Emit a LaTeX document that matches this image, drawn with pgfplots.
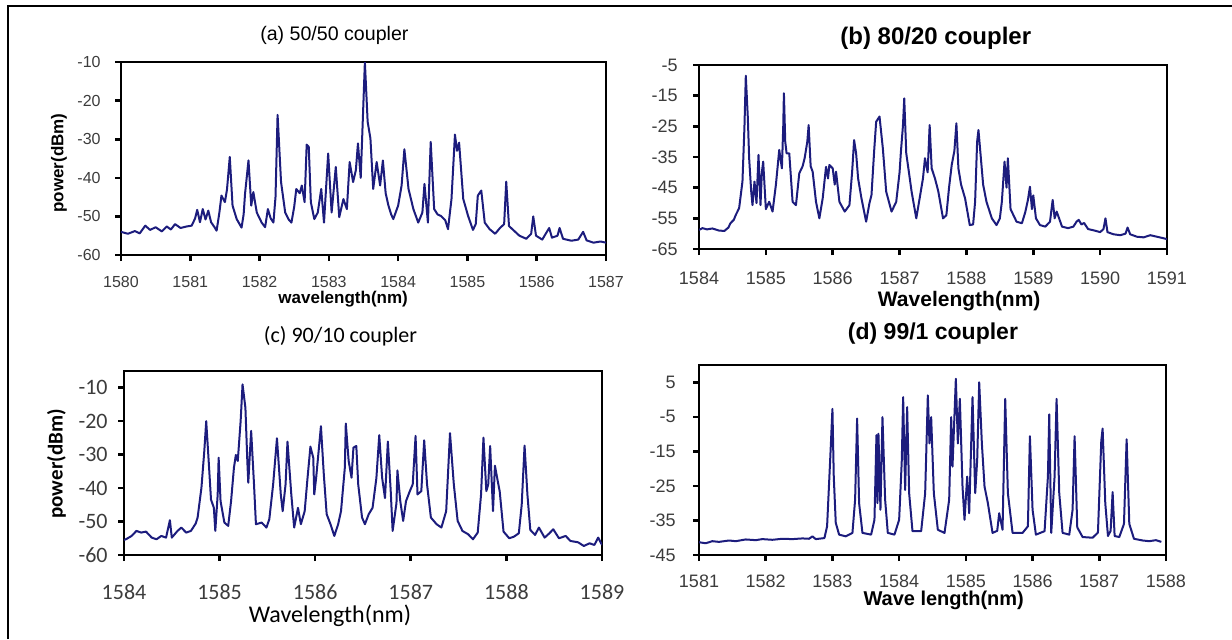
\documentclass[border=0pt]{standalone}
\usepackage{fontspec}
\setmainfont{Liberation Sans}
\newfontfamily\calfont{Carlito}
\usepackage{pgfplots}
\pgfplotsset{compat=1.18}
\definecolor{specblue}{RGB}{28,28,125}
\definecolor{ticktext}{RGB}{60,60,60}
\newcommand{\fs}[1]{\fontsize{#1}{#1}\selectfont}

\pgfplotsset{
  spec/.style={
    scale only axis,
    axis line style={line width=1.3pt, black},
    tick align=outside,
    xtick pos=left, ytick pos=left,
    major tick length=3pt,
    every tick/.append style={draw=black, line width=1.3pt},
    minor tick num=0,
    /pgf/number format/assume math mode=true,
    /pgf/number format/1000 sep={},
    xticklabel style={anchor=center, inner sep=0pt, text=ticktext},
    yticklabel style={anchor=east, inner sep=0pt, text=ticktext},
    title style={anchor=center, yshift=0pt},
    xlabel style={anchor=center},
    ylabel style={anchor=center},
  },
  spectrum/.style={specblue, line width=1pt, line join=round, no markers},
}

\begin{document}
\begin{tikzpicture}
\path[use as bounding box] (0,0) rectangle (616pt,319.5pt);
\draw[line width=1pt] (4pt,0pt) -- (4pt,316.5pt) -- (616pt,316.5pt);

% (a) 50/50 coupler
\begin{axis}[spec,
  at={(60.5pt,192pt)}, anchor=south west,
  width=242.5pt, height=96.5pt,
  xmin=1580, xmax=1587, ymin=-60, ymax=-10,
  xtick={1580,1581,...,1587}, ytick={-60,-50,...,-10},
  tick label style={font=\fs{8}},
  xticklabel shift=10.5pt, yticklabel shift=7pt,
  title={(a) 50/50 coupler}, title style={font=\fs{9.8}, at={(axis description cs:0.44,1.073)}},
  xlabel={wavelength(nm)}, xlabel style={font=\fs{8.5}\bfseries, at={(axis description cs:0.458,-0.23)}},
  ylabel={power(dBm)}, ylabel style={font=\fs{8.5}\bfseries, at={(axis description cs:-0.128,0.477)}},
]
\addplot[spectrum] coordinates {
(1580.00,-54.0) (1580.10,-54.5) (1580.20,-53.8) (1580.27,-54.4) (1580.35,-52.4) (1580.42,-53.5)
(1580.50,-52.8) (1580.59,-53.9) (1580.66,-52.6) (1580.72,-53.4) (1580.78,-52.0) (1580.86,-53.0)
(1580.95,-52.6) (1581.02,-52.4) (1581.07,-50.5) (1581.10,-48.3) (1581.14,-51.5) (1581.18,-48.1)
(1581.22,-50.8) (1581.26,-48.5) (1581.30,-51.5) (1581.35,-52.8) (1581.38,-53.7) (1581.42,-49.0)
(1581.45,-44.6) (1581.50,-46.3) (1581.53,-43.0) (1581.57,-34.6) (1581.61,-47.2) (1581.67,-50.7)
(1581.74,-52.9) (1581.77,-49.5) (1581.79,-44.2) (1581.84,-35.5) (1581.88,-47.2) (1581.91,-43.7)
(1581.96,-49.0) (1582.03,-51.6) (1582.08,-52.8) (1582.12,-48.1) (1582.16,-50.5) (1582.20,-51.6)
(1582.23,-45.0) (1582.26,-23.7) (1582.31,-41.1) (1582.37,-49.0) (1582.42,-50.8) (1582.46,-51.6)
(1582.50,-47.5) (1582.53,-42.9) (1582.58,-44.0) (1582.61,-42.0) (1582.65,-46.3) (1582.68,-31.4)
(1582.71,-32.0) (1582.74,-46.3) (1582.79,-50.7) (1582.84,-49.0) (1582.89,-42.9) (1582.93,-51.6)
(1582.99,-33.7) (1583.04,-49.0) (1583.10,-37.2) (1583.15,-50.2) (1583.21,-45.5) (1583.26,-48.1)
(1583.30,-35.9) (1583.35,-41.1) (1583.39,-38.0) (1583.42,-31.1) (1583.46,-40.0) (1583.49,-25.0)
(1583.52,-10.0) (1583.56,-25.5) (1583.60,-29.8) (1583.64,-42.9) (1583.69,-35.9) (1583.74,-42.0)
(1583.78,-35.5) (1583.82,-44.0) (1583.86,-47.2) (1583.90,-49.5) (1583.93,-50.7) (1584.00,-47.2)
(1584.05,-42.0) (1584.09,-32.6) (1584.15,-42.9) (1584.22,-48.1) (1584.29,-51.6) (1584.35,-49.0)
(1584.38,-41.6) (1584.43,-51.6) (1584.47,-30.7) (1584.52,-48.1) (1584.57,-49.5) (1584.62,-49.9)
(1584.68,-51.0) (1584.72,-53.3) (1584.77,-45.5) (1584.82,-28.8) (1584.85,-33.0) (1584.88,-30.9)
(1584.94,-45.5) (1585.01,-49.9) (1585.08,-53.5) (1585.12,-52.0) (1585.15,-44.6) (1585.20,-43.3)
(1585.25,-51.6) (1585.32,-53.3) (1585.40,-54.5) (1585.47,-53.0) (1585.53,-52.0) (1585.56,-41.0)
(1585.60,-52.5) (1585.66,-53.5) (1585.75,-55.0) (1585.85,-55.8) (1585.92,-54.5) (1585.95,-50.0)
(1585.99,-55.0) (1586.08,-56.0) (1586.18,-53.0) (1586.22,-55.5) (1586.30,-55.0) (1586.33,-53.0)
(1586.38,-55.8) (1586.50,-56.3) (1586.60,-56.0) (1586.67,-54.0) (1586.72,-56.2) (1586.82,-56.8)
(1586.92,-56.5) (1587.00,-56.8)
};
\end{axis}

% (b) 80/20 coupler
\begin{axis}[spec,
  at={(349.5pt,195pt)}, anchor=south west,
  width=234pt, height=92pt,
  xmin=1584, xmax=1591, ymin=-65, ymax=-5,
  xtick={1584,1585,...,1591}, ytick={-65,-55,...,-5},
  tick label style={font=\fs{9}},
  xticklabel shift=11.5pt, yticklabel shift=7.5pt,
  title={(b) 80/20 coupler}, title style={font=\fs{12}\bfseries, at={(axis description cs:0.506,1.082)}},
  xlabel={Wavelength(nm)}, xlabel style={font=\fs{10.5}\bfseries, at={(axis description cs:0.556,-0.283)}},
]
\addplot[spectrum] coordinates {
(1584.00,-58.8) (1584.05,-58.2) (1584.12,-58.6) (1584.20,-58.3) (1584.30,-59.0) (1584.38,-59.1)
(1584.44,-58.0) (1584.47,-56.6) (1584.52,-55.5) (1584.55,-53.9) (1584.60,-51.7) (1584.65,-43.0)
(1584.68,-25.0) (1584.70,-8.5) (1584.73,-22.0) (1584.75,-35.4) (1584.78,-46.0) (1584.80,-50.7)
(1584.83,-43.0) (1584.86,-50.0) (1584.89,-34.3) (1584.92,-50.7) (1584.94,-40.0) (1584.96,-36.5)
(1585.00,-52.0) (1585.05,-49.6) (1585.10,-52.8) (1585.15,-44.1) (1585.20,-32.7) (1585.24,-38.7)
(1585.26,-25.0) (1585.27,-14.2) (1585.29,-30.0) (1585.31,-33.8) (1585.35,-33.8) (1585.40,-49.6)
(1585.45,-50.7) (1585.50,-40.3) (1585.55,-38.0) (1585.58,-35.4) (1585.62,-30.0) (1585.64,-24.6)
(1585.67,-38.0) (1585.70,-39.8) (1585.75,-49.6) (1585.80,-55.0) (1585.85,-48.5) (1585.90,-38.2)
(1585.93,-42.0) (1585.95,-37.6) (1586.00,-38.7) (1586.03,-44.0) (1586.05,-39.8) (1586.10,-49.6)
(1586.18,-52.8) (1586.25,-50.7) (1586.29,-40.0) (1586.32,-29.5) (1586.35,-33.8) (1586.38,-42.0)
(1586.43,-48.5) (1586.50,-56.1) (1586.55,-50.0) (1586.58,-47.4) (1586.62,-33.0) (1586.65,-23.5)
(1586.70,-21.8) (1586.75,-32.2) (1586.80,-46.3) (1586.88,-52.8) (1586.95,-49.6) (1587.00,-40.0)
(1587.02,-33.3) (1587.05,-25.0) (1587.07,-15.9) (1587.10,-33.8) (1587.14,-40.0) (1587.18,-46.3)
(1587.25,-55.0) (1587.30,-48.5) (1587.35,-42.0) (1587.38,-35.4) (1587.42,-40.0) (1587.45,-24.6)
(1587.48,-38.7) (1587.53,-42.0) (1587.58,-46.3) (1587.65,-55.0) (1587.70,-54.0) (1587.74,-45.0)
(1587.78,-37.6) (1587.82,-33.0) (1587.85,-24.0) (1587.88,-38.7) (1587.92,-44.0) (1587.98,-48.5)
(1588.05,-57.2) (1588.10,-57.0) (1588.13,-49.6) (1588.16,-30.0) (1588.18,-26.2) (1588.21,-33.8)
(1588.25,-44.0) (1588.30,-49.6) (1588.38,-55.0) (1588.45,-57.2) (1588.50,-55.0) (1588.53,-49.6)
(1588.57,-36.5) (1588.60,-45.0) (1588.62,-35.4) (1588.66,-52.0) (1588.75,-56.1) (1588.83,-56.6)
(1588.88,-53.0) (1588.92,-49.0) (1588.95,-44.7) (1588.98,-52.0) (1589.00,-47.5) (1589.04,-55.0)
(1589.10,-57.2) (1589.18,-57.7) (1589.25,-56.1) (1589.29,-49.0) (1589.32,-55.0) (1589.35,-52.8)
(1589.43,-57.7) (1589.52,-58.2) (1589.60,-57.7) (1589.65,-56.0) (1589.68,-55.5) (1589.72,-57.0)
(1589.76,-56.5) (1589.82,-58.5) (1589.92,-59.0) (1590.00,-59.5) (1590.05,-58.5) (1590.08,-55.0)
(1590.11,-59.5) (1590.20,-60.2) (1590.30,-60.5) (1590.38,-60.0) (1590.41,-58.0) (1590.45,-60.2)
(1590.55,-61.0) (1590.65,-61.2) (1590.75,-60.5) (1590.85,-61.0) (1590.95,-61.5) (1591.00,-61.8)
};
\end{axis}

% (c) 90/10 coupler
\begin{axis}[spec,
  at={(62pt,42pt)}, anchor=south west,
  width=239pt, height=92pt,
  xmin=1584, xmax=1589, ymin=-60, ymax=-5,
  xtick={1584,1585,...,1589}, ytick={-60,-50,...,-10},
  tick label style={font=\calfont\fs{11}},
  xticklabel shift=15.5pt, yticklabel shift=5pt,
  title={(c) 90/10 coupler}, title style={font=\calfont\fs{11}, at={(axis description cs:0.453,1.122)}},
  xlabel={Wavelength(nm)}, xlabel style={font=\calfont\fs{12}, at={(axis description cs:0.431,-0.33)}},
  ylabel={power(dBm)}, ylabel style={font=\calfont\fs{10.5}\bfseries, at={(axis description cs:-0.141,0.495)}},
]
\addplot[spectrum] coordinates {
(1584.00,-55.5) (1584.02,-55.3) (1584.08,-54.3) (1584.13,-52.8) (1584.18,-53.3) (1584.23,-53.0)
(1584.29,-54.8) (1584.34,-55.3) (1584.39,-54.3) (1584.44,-54.8) (1584.48,-49.6) (1584.50,-54.8)
(1584.56,-52.8) (1584.60,-51.8) (1584.65,-53.3) (1584.70,-52.8) (1584.75,-50.6) (1584.77,-48.8)
(1584.81,-39.9) (1584.84,-28.9) (1584.86,-20.0) (1584.89,-33.9) (1584.91,-43.4) (1584.94,-45.9)
(1584.955,-52.8) (1584.98,-41.9) (1584.99,-30.9) (1585.01,-43.9) (1585.05,-50.3) (1585.09,-51.3)
(1585.12,-43.9) (1585.15,-33.9) (1585.17,-30.1) (1585.19,-31.9) (1585.22,-20.0) (1585.24,-9.0)
(1585.27,-16.0) (1585.29,-31.9) (1585.30,-38.4) (1585.33,-22.9) (1585.36,-38.9) (1585.38,-50.8)
(1585.44,-50.3) (1585.49,-51.8) (1585.52,-49.3) (1585.56,-38.9) (1585.60,-25.1) (1585.64,-41.9)
(1585.66,-46.9) (1585.69,-38.9) (1585.71,-26.1) (1585.75,-41.9) (1585.78,-51.8) (1585.82,-45.9)
(1585.85,-50.8) (1585.89,-46.9) (1585.92,-36.9) (1585.95,-27.6) (1585.98,-31.0) (1585.99,-41.9)
(1586.01,-36.9) (1586.06,-21.5) (1586.09,-35.9) (1586.12,-47.8) (1586.16,-50.8) (1586.20,-54.3)
(1586.24,-50.8) (1586.27,-46.9) (1586.31,-33.9) (1586.32,-20.7) (1586.35,-31.9) (1586.38,-36.9)
(1586.40,-27.9) (1586.43,-27.4) (1586.45,-38.9) (1586.49,-48.8) (1586.52,-50.8) (1586.56,-47.8)
(1586.60,-45.9) (1586.64,-37.0) (1586.67,-24.2) (1586.70,-36.9) (1586.73,-43.0) (1586.76,-26.1)
(1586.79,-40.9) (1586.81,-52.8) (1586.85,-44.5) (1586.86,-34.7) (1586.89,-43.9) (1586.92,-49.8)
(1586.95,-43.9) (1586.99,-40.9) (1587.02,-38.9) (1587.05,-24.4) (1587.07,-41.9) (1587.11,-40.9)
(1587.14,-25.7) (1587.17,-38.9) (1587.21,-48.8) (1587.27,-50.8) (1587.32,-51.8) (1587.37,-46.9)
(1587.41,-23.6) (1587.45,-38.9) (1587.49,-49.8) (1587.54,-52.8) (1587.60,-53.8) (1587.65,-55.3)
(1587.70,-53.3) (1587.735,-41.9) (1587.76,-24.9) (1587.79,-40.9) (1587.81,-38.9) (1587.83,-27.4)
(1587.86,-46.9) (1587.88,-33.3) (1587.91,-38.0) (1587.93,-41.0) (1587.97,-53.0) (1588.03,-55.0)
(1588.08,-54.5) (1588.13,-53.5) (1588.16,-45.0) (1588.19,-27.3) (1588.22,-42.0) (1588.25,-52.5)
(1588.30,-54.0) (1588.34,-51.8) (1588.40,-54.8) (1588.45,-53.5) (1588.49,-52.3) (1588.55,-55.0)
(1588.62,-54.3) (1588.67,-55.8) (1588.75,-56.2) (1588.81,-57.3) (1588.87,-56.5) (1588.92,-57.0)
(1588.96,-54.8) (1589.00,-57.0)
};
\end{axis}

% (d) 99/1 coupler
\begin{axis}[spec,
  at={(349.5pt,42pt)}, anchor=south west,
  width=233.5pt, height=95pt,
  xmin=1581, xmax=1588, ymin=-45, ymax=10,
  xtick={1581,1582,...,1588}, ytick={-45,-35,...,5},
  tick label style={font=\fs{9}},
  xticklabel shift=10pt, yticklabel shift=8.5pt,
  title={(d) 99/1 coupler}, title style={font=\fs{11.5}\bfseries, at={(axis description cs:0.501,1.104)}},
  xlabel={Wave length(nm)}, xlabel style={font=\fs{10}\bfseries, at={(axis description cs:0.524,-0.24)}},
]
\addplot[spectrum] coordinates {
(1581.00,-41.3) (1581.10,-41.6) (1581.20,-41.0) (1581.30,-41.2) (1581.45,-40.8) (1581.55,-41.0)
(1581.70,-40.5) (1581.85,-40.7) (1581.95,-40.4) (1582.10,-40.6) (1582.25,-40.3) (1582.40,-40.4)
(1582.55,-40.2) (1582.65,-40.3) (1582.70,-39.6) (1582.75,-40.4) (1582.88,-40.1) (1582.92,-36.7)
(1582.95,-24.2) (1582.975,-13.7) (1583.00,-2.7) (1583.02,-22.3) (1583.05,-35.7) (1583.10,-39.1)
(1583.20,-39.6) (1583.30,-38.6) (1583.34,-29.0) (1583.37,-5.5) (1583.40,-30.0) (1583.45,-38.6)
(1583.58,-39.1) (1583.63,-34.8) (1583.66,-10.3) (1583.675,-30.0) (1583.69,-9.9) (1583.72,-31.9)
(1583.75,-5.1) (1583.79,-29.0) (1583.83,-38.6) (1583.93,-39.1) (1584.00,-34.8) (1584.04,-17.5)
(1584.06,0.7) (1584.09,-26.2) (1584.12,-2.2) (1584.15,-27.1) (1584.20,-38.1) (1584.33,-38.1)
(1584.39,-27.1) (1584.43,1.2) (1584.455,-12.7) (1584.48,-5.1) (1584.52,-27.1) (1584.58,-37.7)
(1584.68,-38.6) (1584.75,-29.0) (1584.78,-5.1) (1584.80,-19.4) (1584.85,6.0) (1584.88,-12.7)
(1584.91,0.2) (1584.95,-25.2) (1584.98,-34.8) (1585.02,-22.3) (1585.05,-32.9) (1585.10,0.7)
(1585.14,-27.1) (1585.17,-17.5) (1585.20,5.0) (1585.24,-12.7) (1585.28,-25.2) (1585.33,-30.0)
(1585.40,-38.6) (1585.47,-38.0) (1585.50,-32.9) (1585.55,-37.7) (1585.59,0.2) (1585.63,-27.1)
(1585.70,-38.6) (1585.85,-38.6) (1585.93,-36.7) (1585.96,-10.6) (1586.00,-31.9) (1586.05,-39.1)
(1586.18,-38.1) (1586.23,-22.3) (1586.25,-4.3) (1586.28,-38.6) (1586.33,-22.3) (1586.36,0.2)
(1586.40,-27.1) (1586.45,-38.6) (1586.55,-39.1) (1586.60,-31.9) (1586.63,-10.6) (1586.67,-37.0)
(1586.75,-39.8) (1586.90,-40.0) (1586.98,-38.5) (1587.03,-12.0) (1587.05,-8.4) (1587.09,-30.0)
(1587.13,-39.5) (1587.17,-38.0) (1587.20,-26.8) (1587.23,-39.5) (1587.30,-39.8) (1587.37,-36.0)
(1587.41,-11.5) (1587.45,-36.0) (1587.52,-40.3) (1587.65,-40.8) (1587.75,-41.0) (1587.85,-40.7)
(1587.93,-41.2)
};
\end{axis}
\end{tikzpicture}
\end{document}
